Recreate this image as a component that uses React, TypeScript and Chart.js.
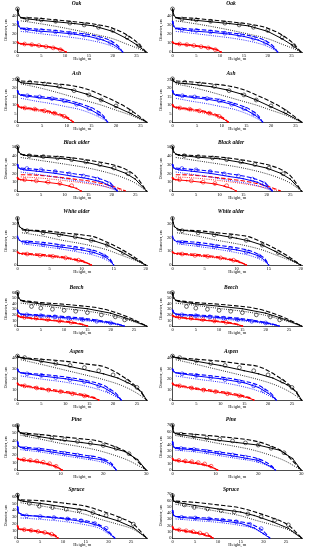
import React, { useEffect, useRef } from 'react';
import { Chart, registerables } from 'chart.js';

Chart.register(...registerables);

// ---------------- labels / axes ----------------
const speciesNames = ['Oak', 'Ash', 'Black alder', 'White alder', 'Beech', 'Aspen', 'Pine', 'Spruce'];
const treeColors = ['#000000', '#0000ff', '#ff0000'];
const xAxisLabel = 'Height, m';
const yAxisLabel = 'Diameter, cm';

const xMaxes = [27.2, 26.3, 27.5, 20.2, 27.8, 27.1, 30.2, 28.5];
const xTickSets = [
  [0, 5, 10, 15, 20, 25],
  [0, 5, 10, 15, 20, 25],
  [0, 5, 10, 15, 20, 25],
  [0, 5, 10, 15, 20],
  [0, 5, 10, 15, 20, 25],
  [0, 5, 10, 15, 20, 25],
  [0, 10, 20, 30],
  [0, 5, 10, 15, 20, 25],
];
const yMaxLeft = [48, 26, 51, 35, 61, 43, 62, 65];
const yMaxRight = [48, 26, 51, 35, 61, 43, 72, 72];
const yTicksLeft = [
  [0, 10, 20, 30, 40],
  [0, 5, 10, 15, 20, 25],
  [0, 10, 20, 30, 40, 50],
  [0, 10, 20, 30],
  [0, 10, 20, 30, 40, 50, 60],
  [0, 10, 20, 30, 40],
  [0, 10, 20, 30, 40, 50, 60],
  [0, 10, 20, 30, 40, 50, 60],
];
const yTicksRight = [
  [0, 10, 20, 30, 40],
  [0, 5, 10, 15, 20, 25],
  [0, 10, 20, 30, 40, 50],
  [0, 10, 20, 30],
  [0, 10, 20, 30, 40, 50, 60],
  [0, 10, 20, 30, 40],
  [0, 10, 20, 30, 40, 50, 60, 70],
  [0, 10, 20, 30, 40, 50, 60, 70],
];

// ---------------- data: [black tree, blue tree, red tree] ----------------
// Oak
const oakMeasH = [[0, 0.1, 0.3, 0.7, 1.3, 4, 8, 12, 16, 20, 23, 25, 27], [0, 0.1, 0.3, 0.7, 1.3, 4, 8, 12, 15, 18, 20, 21.3, 22.1], [0, 0.1, 0.3, 0.7, 1.3, 3, 5, 7, 8.5, 9.5, 10.2]];
const oakMeas = [[46.5, 44, 40, 37.5, 36.5, 35, 33, 31, 28.5, 22.5, 14.5, 8, 0], [33.5, 31, 28, 25.5, 25, 23, 21.5, 19.5, 17, 13, 8.5, 4, 0], [11, 10.3, 9.5, 9, 8.5, 7.8, 6.5, 5, 3.5, 1.8, 0]];
const oakModH = [[0.7, 4, 8, 12, 16, 20, 23, 25, 27], [0.7, 4, 8, 12, 15, 18, 20, 21.3, 22.1], [0.7, 3, 5, 7, 8.5, 9.5, 10.2]];
const oakDash = [[37.5, 37, 35, 33, 30.5, 26, 18.5, 11, 0], [26, 25, 23.5, 21, 19, 15.5, 11, 5.5, 0], [9.3, 8.3, 7, 5.5, 4, 2.2, 0]];
const oakDot = [[34, 31.5, 28, 24, 19.5, 14.5, 8.5, 4.5, 0], [22.5, 20.5, 18, 15.5, 13, 9.5, 6, 2.5, 0], [8.5, 7.2, 6, 4.5, 3, 1.5, 0]];
const oakCircH = [[0, 2, 5, 8, 11, 14, 17, 20, 23, 25.5], [2, 5, 8, 11, 14, 17, 19.5], [1.5, 3, 4.5, 6, 7.5, 9]];
const oakCirc = [[47, 36, 35, 33.5, 31.5, 29.5, 27, 23.5, 16, 7], [24.5, 23.5, 22, 20.5, 18.5, 15, 10.5], [8.7, 8, 7, 5.8, 4.5, 2.5]];

// Ash
const ashMeasH = [[0, 0.1, 0.3, 0.7, 1.3, 4, 8, 11, 14, 17, 20, 23, 26.2], [0, 0.1, 0.3, 0.7, 1.3, 4, 7, 10, 12.5, 15, 16.5, 17.5, 18.3], [0, 0.1, 0.3, 0.7, 1.3, 3, 5, 7, 9, 10.3, 11.3]];
const ashMeas = [[25.5, 24.8, 24, 23.3, 23, 22.3, 20.8, 19, 16.5, 13, 9, 5, 0], [18.5, 17.5, 16.5, 15.8, 15.5, 14.5, 13.5, 12, 10, 7, 4.5, 2.5, 0], [10.3, 9.5, 9, 8.6, 8.3, 7.6, 6.8, 5.5, 3.8, 2, 0]];
const ashModH = [[0.7, 4, 8, 11, 14, 17, 20, 23, 26.2], [0.7, 4, 7, 10, 12.5, 15, 16.5, 17.5, 18.3], [0.7, 3, 5, 7, 9, 10.3, 11.3]];
const ashDash = [[24.2, 23.6, 22.5, 21.5, 19.5, 16, 12, 7, 0], [16.2, 15.2, 14.3, 13, 11, 8.5, 6, 3.5, 0], [8.8, 8, 7.2, 6, 4.3, 2.5, 0]];
const ashDot = [[22.5, 20.5, 17.5, 15, 12.5, 10, 7, 4, 0], [14, 12.2, 10.8, 9, 7.5, 5, 3, 1.5, 0], [8, 7, 6, 4.8, 3.2, 1.6, 0]];
const ashCircH = [[0, 2.5, 5.5, 8.5, 11.5, 14.5, 17, 20, 23], [2, 4.5, 7, 9.5, 12, 14.5, 16.5], [1.5, 3.5, 5.5, 7.5, 9.5]];
const ashCirc = [[25.5, 23.5, 22.5, 21, 18.5, 16, 13, 9.5, 6], [15.5, 14.8, 13.8, 12.5, 10.5, 8, 5], [8.3, 7.6, 6.6, 5.2, 3.3]];

// Black alder
const balMeasH = [[0, 0.1, 0.3, 0.7, 1.3, 5, 10, 15, 20, 23, 25, 27.4], [0, 0.1, 0.3, 0.7, 1.3, 4, 8, 12, 15, 18, 20, 21.2], [0, 0.1, 0.3, 0.7, 1.3, 3, 6, 9, 11, 12.5, 13.5]];
const balMeas = [[50, 47, 44, 42, 40.5, 38.5, 36.5, 32, 26, 20, 13.5, 0], [30, 28, 26, 25, 24, 22.5, 20, 16.5, 14, 10, 5, 0], [15, 14, 13.3, 12.8, 12.5, 11.8, 10, 8, 5.5, 3, 0]];
const balModH = [[0.7, 5, 10, 15, 20, 23, 25, 27.4], [0.7, 4, 8, 12, 15, 18, 20, 21.2], [0.7, 4, 8, 12, 16, 19, 21, 23]];
const balDash = [[41.5, 40, 38.5, 35, 30, 24.5, 17.5, 0], [26, 24.5, 22.5, 19.5, 17, 13, 7.5, 0], [18.5, 18, 16, 13.5, 10.5, 7, 4, 0]];
const balDot = [[38, 34.5, 30.5, 26, 19.5, 14, 9, 0], [21.5, 19, 16, 12, 9.5, 6, 2.5, 0], [16, 15, 13, 10.5, 7.5, 4.5, 2, 0]];
const balCircH = [[0, 2.5, 5.5, 8.5, 11.5, 14.5, 17.5, 20.5, 23.5], [2, 5, 8, 11, 14, 17, 19.5], [1.5, 4, 6.5, 9, 11.5]];
const balCirc = [[50, 40, 39, 37.5, 35.5, 33, 30, 26, 19.5], [25.5, 24, 22, 19.5, 17, 13.5, 8], [12.8, 11.5, 10, 8.5, 6]];

// White alder
const walMeasH = [[0, 0.1, 0.3, 0.7, 1.3, 4, 7, 10, 12, 14, 16, 18, 20], [0, 0.1, 0.3, 0.7, 1.3, 4, 7, 10, 12, 13.5, 14.5, 15], [0, 0.1, 0.3, 0.7, 1.3, 3, 5, 7, 9, 10.5, 11.5]];
const walMeas = [[34, 31, 28, 26.5, 25.5, 24, 22, 19.5, 17.5, 14.5, 10, 5, 0], [21, 19.5, 18, 17, 16.5, 15, 13, 11, 9, 6.5, 3, 0], [9.5, 9, 8.5, 8.2, 8, 7.2, 6.5, 5.5, 3.8, 2, 0]];
const walModH = [[0.7, 4, 7, 10, 12, 14, 16, 18, 20], [0.7, 4, 7, 10, 12, 13.5, 14.5, 15], [0.7, 3, 5, 7, 9, 10.5, 11.5]];
const walDash = [[25.5, 25, 23.5, 22, 20.5, 16.5, 12, 6.5, 0], [17.5, 16.5, 14.5, 12.5, 10.5, 7.5, 4, 0], [8.7, 8, 7.2, 6, 4.3, 2.5, 0]];
const walDot = [[23.5, 21, 18, 15.5, 13.5, 11, 7.5, 4, 0], [15.5, 13.5, 11.5, 9, 7, 4.5, 2, 0], [7.8, 7, 6, 5, 3.5, 1.8, 0]];
const walCircH = [[0, 1.5, 4, 6.5, 9, 11.5, 14, 16.5], [1.5, 4, 6.5, 9, 11.5, 13.5], [1.5, 3.5, 5.5, 7.5, 9.5]];
const walCirc = [[34, 25, 23.5, 22, 20.5, 18, 14.5, 9], [16.5, 15, 13.5, 12, 9.5, 6.5], [8, 7, 6.3, 5.2, 3.5]];

// Beech
const beeMeasH = [[0, 0.1, 0.3, 0.7, 1.3, 5, 10, 15, 20, 23, 25, 27.7], [0, 0.1, 0.3, 0.7, 1.3, 5, 10, 15, 18, 20, 21.5, 22.9], [0, 0.1, 0.3, 0.7, 1.3, 3, 6, 9, 12, 14, 15]];
const beeMeas = [[60, 55, 50, 46, 44, 39.5, 35.5, 31, 23, 15, 9, 0], [28.5, 26, 23.5, 21.5, 20.5, 18.5, 15, 11, 8, 5.5, 3, 0], [19, 18, 17, 16, 15.5, 13.5, 11, 8.5, 5.5, 2.5, 0]];
const beeModH = [[0.7, 5, 10, 15, 17, 20, 24, 27.7], [0.7, 5, 10, 15, 18, 20, 21.5, 22.9], [0.7, 3, 6, 9, 12, 14, 15]];
const beeDash = [[46, 42, 39, 35, 33, 27, 15, 0], [21.5, 20, 17, 13, 9.5, 6.5, 3.5, 0], [16.5, 14.5, 12, 9.5, 6.5, 3, 0]];
const beeDot = [[41, 37, 31.5, 26.5, 24, 19, 10, 0], [19, 16.5, 13, 9, 6.5, 4, 2, 0], [15, 13, 10.5, 8, 5, 2, 0]];
const beeCircH = [[0, 3, 5, 7.5, 10, 12.5, 15, 18, 21, 23], [2, 5, 8, 11, 14, 17, 20], [1.5, 4, 6.5, 9, 11.5]];
const beeCirc = [[60, 35, 32, 30, 28, 26.5, 24, 20, 16.5, 11], [20, 18.5, 16.5, 14, 11.5, 8.5, 5.5], [15.5, 14, 11.5, 9, 6.5]];

// Aspen
const aspMeasH = [[0, 0.1, 0.3, 0.7, 1.3, 5, 10, 15, 18, 21, 24, 26, 27], [0, 0.1, 0.3, 0.7, 1.3, 5, 10, 15, 18, 20, 21, 21.7], [0, 0.1, 0.3, 0.7, 1.3, 5, 8, 11, 14, 16, 17]];
const aspMeas = [[42, 41.5, 41, 40.5, 40, 37, 33, 28, 25, 21, 14.5, 7.5, 0], [29.5, 28, 27, 26, 25.5, 23, 20.3, 16.5, 12, 6.5, 3, 0], [16, 15, 14.5, 14, 13.5, 10.5, 8.5, 6.5, 4, 2, 0]];
const aspModH = [[0.7, 5, 10, 15, 18, 22, 25, 27], [0.7, 5, 10, 15, 18, 20, 21, 21.7], [0.7, 5, 8, 11, 14, 16, 17]];
const aspDash = [[40.5, 39, 37, 34, 32, 22.5, 12, 0], [26, 24.5, 22, 18, 14, 8.5, 4.5, 0], [14.5, 11.5, 9.5, 7.5, 5, 2.5, 0]];
const aspDot = [[38.5, 34, 28.5, 23, 19.5, 13.5, 6.5, 0], [23, 20, 17, 12.5, 8.5, 4.5, 2, 0], [13, 10, 8, 6, 3.5, 1.5, 0]];
const aspCircH = [[0, 1.5, 5, 8, 11, 14, 17, 20, 23, 25], [2, 5, 8, 11, 14, 17, 19], [1.5, 4, 6.5, 9, 11.5, 14]];
const aspCirc = [[42, 40.5, 37.5, 35, 33, 31, 28, 24, 18, 12], [25, 23.5, 21.5, 19.5, 17.5, 13.5, 9], [13.5, 11.5, 9.5, 8, 6, 4]];

// Pine (left panel)
const pinMeasH = [[0, 0.1, 0.3, 0.7, 1.3, 5, 10, 15, 20, 25, 28, 30], [0, 0.1, 0.3, 0.7, 1.3, 5, 10, 15, 20, 22, 23], [0, 0.1, 0.3, 0.7, 1.3, 3, 5, 7, 9, 10.4]];
const pinMeas = [[60, 56, 52, 50, 49, 45, 40.5, 37, 33, 25, 14, 0], [38, 35, 32, 30.5, 29.5, 27, 22.5, 18, 13.5, 7, 0], [16, 15, 14.5, 14, 13.5, 12, 10.5, 8, 4.5, 0]];
const pinModH = [[0.7, 5, 10, 15, 18, 22, 26, 30], [0.7, 5, 10, 15, 20, 22, 23], [0.7, 3, 5, 7, 9, 10.4]];
const pinDash = [[50, 48, 45, 42, 40, 33, 22, 0], [31, 29, 25, 20.5, 15, 8.5, 0], [14.5, 13, 11, 8.5, 5, 0]];
const pinDot = [[47, 42, 36, 31, 27.5, 21, 12.5, 0], [27.5, 24.5, 20, 15.5, 10, 5, 0], [13, 11.5, 9.5, 7, 3.5, 0]];
const pinCircH = [[0, 2, 5, 8, 11, 14, 17, 20, 23, 26], [2, 5, 8, 11, 14, 17, 20], [1.5, 3, 4.5, 6, 7.5, 9]];
const pinCirc = [[60, 48, 46, 43, 41, 38.5, 36, 33, 29, 22], [29, 27.5, 25, 22.5, 20, 17, 13], [14, 13, 12, 10.5, 8.5, 5]];

// Pine (right panel)
const pinRMeasH = [[0, 0.1, 0.3, 0.7, 1.3, 5, 10, 15, 20, 25, 28, 30], [0, 0.1, 0.3, 0.7, 1.3, 5, 10, 15, 20, 23, 24], [0, 0.1, 0.3, 0.7, 1.3, 3, 5, 7, 9, 10.5]];
const pinRMeas = [[70, 64, 59, 57, 56, 52, 47, 43, 39, 31, 18, 0], [44, 40, 36, 34, 33.5, 31.5, 26.5, 21, 15, 5, 0], [18, 16.5, 15.5, 15, 14.5, 12.5, 10.5, 8.5, 5, 0]];
const pinRModH = [[0.7, 5, 10, 15, 18, 22, 26, 30], [0.7, 5, 10, 15, 20, 23, 24], [0.7, 3, 5, 7, 9, 10.5]];
const pinRDash = [[58, 56, 53, 49.5, 47, 40, 27, 0], [35, 33.5, 29, 24, 17.5, 7, 0], [15.5, 14, 12, 9.5, 5.5, 0]];
const pinRDot = [[54, 49, 42.5, 36.5, 32.5, 25, 15, 0], [31, 28.5, 23.5, 18, 12, 4, 0], [14, 12.5, 10.5, 8, 4, 0]];
const pinRCircH = [[0, 2, 5, 8, 11, 14, 17, 20, 23, 26], [2, 5, 8, 11, 14, 17, 20], [1.5, 3, 4.5, 6, 7.5, 9]];
const pinRCirc = [[70, 56, 53, 50, 48, 45.5, 42.5, 39, 34, 27], [33.5, 32, 29, 26.5, 23.5, 20, 15], [15, 14, 13, 11.5, 9.5, 6]];

// Spruce (left panel)
const sprMeasH = [[0, 0.1, 0.3, 0.7, 1.3, 5, 10, 15, 18, 22, 25.5, 28.4], [0, 0.1, 0.3, 0.7, 1.3, 5, 10, 15, 18, 20, 21.4], [0, 0.1, 0.3, 0.7, 1.3, 3, 5, 7, 8.5, 8.9]];
const sprMeas = [[62, 58, 55, 54, 53, 50, 45, 40, 33, 25, 15, 0], [45, 40, 36, 35, 33, 31, 28, 23, 17.5, 8, 0], [17.5, 15, 13, 12.5, 12, 10.5, 8.5, 6, 2, 0]];
const sprModH = [[0.7, 5, 10, 15, 18, 22, 25.5, 28.4], [0.7, 5, 10, 15, 18, 20, 21.4], [0.7, 3, 5, 7, 8.5, 8.9]];
const sprDash = [[55, 54, 50.5, 46, 40, 31, 20, 0], [33, 31.5, 29, 25, 19, 10, 0], [13, 11.5, 9.5, 7, 3, 0]];
const sprDot = [[51, 46.5, 41, 34, 27.5, 20, 12.5, 0], [29, 27, 24, 19, 14, 6, 0], [12, 10, 8, 5.5, 1.5, 0]];
const sprCircH = [[0, 2.6, 4.8, 7.7, 10.7, 13.6, 16.6, 19.5, 22.5, 25.5], [2, 5, 8, 11, 14, 17, 19.5], [1.5, 3, 4.5, 6, 7.5]];
const sprCirc = [[62, 50, 46, 44, 41.5, 40, 36.5, 32.5, 27.5, 20], [32, 31, 29.5, 27.5, 25, 21, 14], [12, 11, 9.5, 8, 5.5]];

// Spruce (right panel)
const sprRMeas = [[68, 62, 59, 57.5, 56.5, 52, 46.5, 41.5, 36, 26, 15.5, 0], [44, 40, 36, 34.5, 33.5, 31, 28.5, 23.5, 16, 7, 0], [18, 16, 14, 13.5, 13, 10.5, 8, 5, 1.5, 0]];
const sprRDash = [[59, 57, 53, 48, 42, 32, 20.5, 0], [34.5, 33, 30.5, 26, 20, 11, 0], [14, 12, 9.5, 6.5, 2.5, 0]];
const sprRDot = [[54, 49, 42.5, 35.5, 29, 21, 13, 0], [30.5, 28, 25, 20, 15, 6.5, 0], [12.5, 10.5, 8, 5, 1.5, 0]];
const sprRCirc = [[68, 53, 49, 46.5, 44, 42, 38.5, 34, 28.5, 21], [33, 32, 30.5, 28.5, 26, 22, 15], [13, 11.5, 10, 8, 5.5]];

type Set3 = number[][];
type Taper = { measH: Set3; meas: Set3; modH: Set3; dash: Set3; dot: Set3; circH: Set3; circ: Set3 };
const mk = (measH: Set3, meas: Set3, modH: Set3, dash: Set3, dot: Set3, circH: Set3, circ: Set3): Taper =>
  ({ measH, meas, modH, dash, dot, circH, circ });

const oak = mk(oakMeasH, oakMeas, oakModH, oakDash, oakDot, oakCircH, oakCirc);
const ash = mk(ashMeasH, ashMeas, ashModH, ashDash, ashDot, ashCircH, ashCirc);
const bal = mk(balMeasH, balMeas, balModH, balDash, balDot, balCircH, balCirc);
const wal = mk(walMeasH, walMeas, walModH, walDash, walDot, walCircH, walCirc);
const bee = mk(beeMeasH, beeMeas, beeModH, beeDash, beeDot, beeCircH, beeCirc);
const asp = mk(aspMeasH, aspMeas, aspModH, aspDash, aspDot, aspCircH, aspCirc);
const pinL = mk(pinMeasH, pinMeas, pinModH, pinDash, pinDot, pinCircH, pinCirc);
const pinR = mk(pinRMeasH, pinRMeas, pinRModH, pinRDash, pinRDot, pinRCircH, pinRCirc);
const sprL = mk(sprMeasH, sprMeas, sprModH, sprDash, sprDot, sprCircH, sprCirc);
const sprR = mk(sprMeasH, sprRMeas, sprModH, sprRDash, sprRDot, sprCircH, sprRCirc);

const leftData = [oak, ash, bal, wal, bee, asp, pinL, sprL];
const rightData = [oak, ash, bal, wal, bee, asp, pinR, sprR];

// ---------------- layout ----------------
const rowPlotTop = [8, 78, 146, 217, 292, 355, 424, 493];
const rowPlotBottom = [52, 122, 191, 265, 326, 400, 470, 538];
const rowTitleY = [4, 73.5, 143, 212, 288, 352, 420, 489.5];
const PAD_TOP = 9;
const X_AXIS_H = 10;
const Y_AXIS_W = 17.5;
const FONT = '"Liberation Serif", "DejaVu Serif", serif';

const panelTitlePlugin = {
  id: 'panelTitle',
  afterDraw(chart: any, _args: any, opts: any) {
    if (!opts || !opts.text) return;
    const ctx = chart.ctx;
    ctx.save();
    ctx.font = `italic bold 5.5px ${FONT}`;
    ctx.fillStyle = '#000';
    ctx.textAlign = 'center';
    ctx.textBaseline = 'middle';
    ctx.fillText(opts.text, chart.width / 2 - 1, opts.y);
    ctx.restore();
  },
};
Chart.register(panelTitlePlugin);

const pts = (xs: number[], ys: number[]) => xs.map((x, i) => ({ x, y: ys[i] }));

function Panel({ row, col }: { row: number; col: number }) {
  const ref = useRef<HTMLCanvasElement>(null);
  const canvasTop = rowPlotTop[row] - PAD_TOP;
  const height = rowPlotBottom[row] - rowPlotTop[row] + PAD_TOP + X_AXIS_H;
  const left = col === 0 ? 0 : 155;
  const width = col === 0 ? 155 : 154;
  const padRight = col === 0 ? 8 : 7;

  useEffect(() => {
    const d = col === 0 ? leftData[row] : rightData[row];
    const yMax = col === 0 ? yMaxLeft[row] : yMaxRight[row];
    const yTicks = col === 0 ? yTicksLeft[row] : yTicksRight[row];
    const xTicks = xTickSets[row];
    const datasets: any[] = [];
    for (let t = 0; t < 3; t++) {
      const c = treeColors[t];
      datasets.push({
        data: pts(d.circH[t], d.circ[t]), showLine: false, pointStyle: 'circle',
        pointRadius: 1.9, pointBorderWidth: 0.6, pointBorderColor: c,
        pointBackgroundColor: 'rgba(255,255,255,0)', borderColor: c, clip: false,
      });
    }
    for (let t = 0; t < 3; t++) {
      const c = treeColors[t];
      datasets.push({
        data: pts(d.measH[t], d.meas[t]), showLine: true, borderColor: c, borderWidth: 1,
        pointRadius: t === 2 ? 0.9 : 0.8, pointBorderWidth: 0, pointBackgroundColor: c, tension: 0, clip: false,
      });
      datasets.push({
        data: pts(d.modH[t], d.dash[t]), showLine: true, borderColor: c, borderWidth: 1.1,
        borderDash: [4.5, 2], pointRadius: 0, cubicInterpolationMode: 'monotone', clip: false,
      });
      datasets.push({
        data: pts(d.modH[t], d.dot[t]), showLine: true, borderColor: c, borderWidth: 0.9,
        borderDash: [0.9, 1.3], pointRadius: 0, cubicInterpolationMode: 'monotone', clip: false,
      });
    }
    const chart = new Chart(ref.current as HTMLCanvasElement, {
      type: 'scatter',
      data: { datasets },
      options: {
        animation: false,
        responsive: false,
        events: [],
        layout: { padding: { top: PAD_TOP, right: padRight, bottom: 0, left: 0 } },
        plugins: {
          legend: { display: false },
          tooltip: { enabled: false },
          panelTitle: { text: speciesNames[row], y: rowTitleY[row] - canvasTop },
        } as any,
        scales: {
          x: {
            type: 'linear', min: 0, max: xMaxes[row],
            grid: { display: false, drawTicks: false },
            border: { display: true, color: '#000', width: 0.7 },
            ticks: { color: '#000', font: { size: 4.5, family: FONT }, padding: 1, autoSkip: false, maxRotation: 0 },
            title: { display: true, text: xAxisLabel, color: '#000', font: { size: 4.5, family: FONT }, padding: { top: 0, bottom: 0.3 } },
            afterBuildTicks: (s: any) => { s.ticks = xTicks.map((v) => ({ value: v })); },
            afterFit: (s: any) => { s.height = X_AXIS_H; },
          },
          y: {
            type: 'linear', min: 0, max: yMax,
            grid: { display: false, drawTicks: false },
            border: { display: true, color: '#000', width: 0.7 },
            ticks: { color: '#000', font: { size: 4.5, family: FONT }, padding: 1, autoSkip: false },
            title: { display: true, text: yAxisLabel, color: '#000', font: { size: 4, family: FONT }, padding: { top: 4, bottom: 0 } },
            afterBuildTicks: (s: any) => { s.ticks = yTicks.map((v) => ({ value: v })); },
            afterFit: (s: any) => { s.width = Y_AXIS_W; },
          },
        },
      } as any,
    });
    return () => chart.destroy();
  }, [row, col]);

  return (
    <canvas
      ref={ref}
      width={width}
      height={height}
      style={{ position: 'absolute', left, top: canvasTop, width, height, display: 'block' }}
    />
  );
}

export default function App() {
  const rows = speciesNames.map((_, i) => i);
  return (
    <div style={{ position: 'fixed', left: 0, top: 0, width: 309, height: 550, background: '#fff', overflow: 'hidden' }}>
      {rows.map((r) => (
        <React.Fragment key={r}>
          <Panel row={r} col={0} />
          <Panel row={r} col={1} />
        </React.Fragment>
      ))}
    </div>
  );
}
